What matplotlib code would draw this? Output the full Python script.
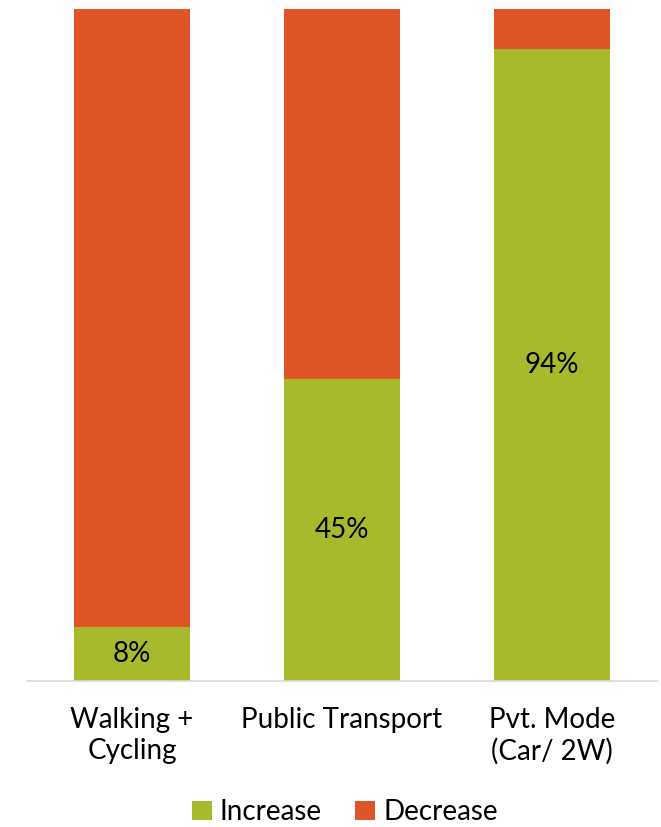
import numpy as np
import matplotlib.pyplot as plt

plt.rcParams['font.family'] = ['Lato', 'DejaVu Sans']

categories = ['Walking +\nCycling', 'Public Transport', 'Pvt. Mode\n(Car/ 2W)']
increase = [8, 45, 94]
decrease = [92, 55, 6]

green = '#A8B92B'
orange = '#E05528'

fig = plt.figure(figsize=(6.61, 8.27), dpi=100)
ax = fig.add_axes([27 / 661, 1 - 681 / 827, 630 / 661, 672 / 827])

x = np.arange(len(categories))
width = 0.552
ax.bar(x, increase, width, color=green, label='Increase')
ax.bar(x, decrease, width, bottom=increase, color=orange, label='Decrease')

# percent labels in the middle of the green segment
for xi, v in zip(x, increase):
    ax.text(xi, v / 2, '{}%'.format(v), ha='center', va='center', fontsize=20, color='black')

ax.set_xlim(-0.5, 2.5)
ax.set_ylim(0, 100)
ax.set_xticks(x)
ax.set_xticklabels(categories, fontsize=20, linespacing=1.2)
ax.tick_params(axis='x', length=0, pad=19)
ax.set_yticks([])
for side in ['top', 'left', 'right']:
    ax.spines[side].set_visible(False)
ax.spines['bottom'].set_color('#D9D9D9')
ax.spines['bottom'].set_linewidth(1.2)

fig.legend(loc='center', bbox_to_anchor=(345 / 661, 1 - 812 / 827), ncol=2, frameon=False,
           fontsize=20, handlelength=0.7, handleheight=0.7, handletextpad=0.3, columnspacing=1.2)

fig.savefig('out.png', dpi=100)
